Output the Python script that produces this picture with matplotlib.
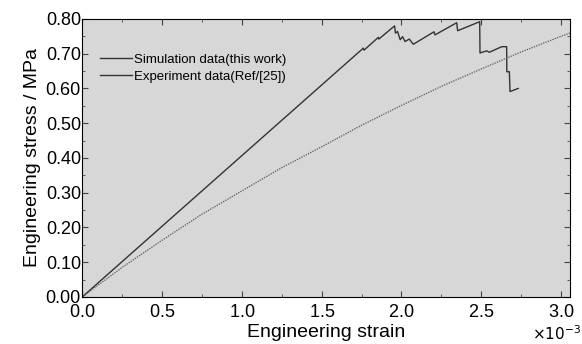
import numpy as np
import matplotlib
matplotlib.use("Agg")
import matplotlib.pyplot as plt
from matplotlib.ticker import MultipleLocator, FormatStrFormatter

plt.rcParams['font.family'] = ['Liberation Sans Narrow', 'Liberation Sans', 'DejaVu Sans']

# simulation curve (strain in 1e-3, stress in MPa)
sim_strain = [0.0, 1.761, 1.765, 1.855, 1.858, 1.957, 1.962, 1.975, 1.992, 2.007, 2.022,
              2.049, 2.074, 2.204, 2.210, 2.346, 2.352, 2.490, 2.492, 2.534, 2.550,
              2.628, 2.659, 2.660, 2.676, 2.680, 2.732]
sim_stress = [0.0, 0.716, 0.710, 0.747, 0.742, 0.780, 0.759, 0.764, 0.740, 0.749, 0.735,
              0.742, 0.727, 0.763, 0.754, 0.789, 0.766, 0.792, 0.702, 0.708, 0.704,
              0.720, 0.720, 0.648, 0.648, 0.591, 0.600]

# experiment curve
exp_strain = [0.0, 0.25, 0.5, 0.75, 1.0, 1.25, 1.5, 1.75, 2.0, 2.25, 2.5, 2.75, 3.0, 3.06]
exp_stress = [0.0, 0.085, 0.163, 0.238, 0.305, 0.372, 0.432, 0.494, 0.551, 0.606,
              0.656, 0.705, 0.750, 0.760]

fig = plt.figure(figsize=(5.82, 3.44), dpi=100)
ax = fig.add_axes([0.1414, 0.137, 0.838, 0.808])
ax.set_facecolor('#d7d7d7')

ax.plot(np.array(sim_strain) * 1e-3, sim_stress, color='#333333', lw=1.0,
        label='Simulation data(this work)')
ax.plot(np.array(exp_strain) * 1e-3, exp_stress, color='#555555', lw=0.9,
        ls=(0, (1, 1)))
# legend shows both as solid lines
ax.plot([], [], color='#333333', lw=1.0, label='Experiment data(Ref/[25])')

ax.set_xlim(0, 3.056e-3)
ax.set_ylim(0, 0.80)
ax.xaxis.set_major_locator(MultipleLocator(0.5e-3))
ax.xaxis.set_minor_locator(MultipleLocator(0.25e-3))
ax.yaxis.set_major_locator(MultipleLocator(0.1))
ax.yaxis.set_minor_locator(MultipleLocator(0.05))
ax.yaxis.set_major_formatter(FormatStrFormatter('%.2f'))
fmt = matplotlib.ticker.ScalarFormatter(useMathText=True)
fmt.set_powerlimits((-2, 2))
ax.xaxis.set_major_formatter(fmt)
ax.xaxis.get_offset_text().set_visible(False)
fig.text(0.998, 0.004, r'$\times10^{-3}$', ha='right', va='bottom', fontsize=11)

ax.tick_params(which='both', direction='in', top=True, right=True, color='#444444')
ax.tick_params(which='major', length=4, labelsize=13, pad=1)
ax.tick_params(axis='x', which='major', pad=5)
ax.tick_params(which='minor', length=2)
for s in ax.spines.values():
    s.set_linewidth(0.8)

ax.set_xlabel('Engineering strain', fontsize=14, labelpad=2)
ax.set_ylabel('Engineering stress / MPa', fontsize=14, labelpad=3)

ax.legend(loc='upper left', bbox_to_anchor=(0.036, 0.875), frameon=False, fontsize=9.5,
          handlelength=2.4, handletextpad=0.2, labelspacing=0.35, borderpad=0,
          borderaxespad=0)

fig.savefig('out.png', dpi=100)
